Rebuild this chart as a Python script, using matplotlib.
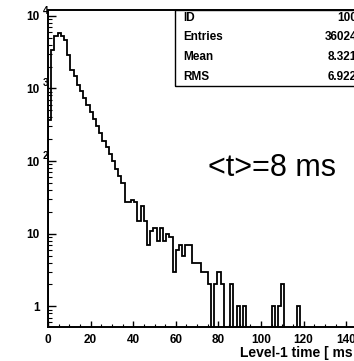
import numpy as np
import matplotlib.pyplot as plt
from matplotlib.patches import Rectangle

plt.rcParams['font.family'] = 'Liberation Sans'

# 100 bins of 1.5 ms between 0 and 150 ms
bin_edges = np.linspace(0, 150, 101)
counts = [365, 3400, 5270, 5720, 5270, 4700, 2900, 1800, 1460, 1120,
          910, 740, 590, 480, 380, 300, 245, 190, 155, 125,
          100, 78, 62, 50, 27, 27, 29, 27, 15, 24,
          15, 7, 11, 12, 8, 12, 8, 10, 9, 3,
          6, 7, 5, 7, 7, 4, 4, 4, 3, 3,
          2, 0, 2, 3, 2, 0, 0, 2, 0, 1,
          0, 1, 0, 0, 0, 0, 0, 0, 0, 0,
          1, 0, 1, 2, 0, 0, 0, 0, 1, 0,
          0, 0, 0, 0, 0, 0, 0, 0, 0, 0,
          0, 0, 0, 0, 0, 0, 0, 0, 0, 0]

stat_names = ['ID', 'Entries', 'Mean', 'RMS']
stat_values = ['100', '36024', '8.321', '6.922']

xticks = [0, 20, 40, 60, 80, 100, 120, 140]
ydecades = [0, 1, 2, 3, 4]

W, H = 354, 361
fig = plt.figure(figsize=(W / 100, H / 100), dpi=100)
# axes runs past the right edge of the picture (cropped like the original)
ax = fig.add_axes([48 / W, 34 / H, 319.5 / W, 317 / H])

y = np.array(counts, dtype=float)
y[y <= 0] = 1e-3  # empty bins drop to the bottom of the log axis
ax.stairs(y, bin_edges, baseline=1e-3, color='black', lw=1.3)

ax.set_yscale('log')
ax.set_xlim(0, 150)
ax.set_ylim(0.52, 12000)

for s in ax.spines.values():
    s.set_linewidth(1.4)

ax.set_xticks(xticks)
ax.set_xticks(np.arange(0, 151, 5), minor=True)
ax.set_yticks([10.0 ** d for d in ydecades])
ax.set_yticklabels(['1', '10', '10', '10', '10'])
ax.yaxis.set_minor_formatter(plt.NullFormatter())
ax.tick_params(axis='x', which='major', direction='in', length=4, width=1,
               pad=5, labelsize=8.5)
ax.tick_params(axis='x', which='minor', direction='in', length=2.2, width=0.8)
ax.tick_params(axis='y', which='major', direction='in', length=5.5, width=1,
               pad=6, labelsize=8.5)
ax.tick_params(axis='y', which='minor', direction='in', length=3, width=0.8)
for lab in ax.get_xticklabels() + ax.get_yticklabels():
    lab.set_fontweight('bold')

# exponents of the decade labels, hanging next to the axis like ROOT does
for d in ydecades[2:]:
    ax.annotate(str(d), xy=(0, 10.0 ** d), xycoords=('axes fraction', 'data'),
                xytext=(-5, 5), textcoords='offset pixels', ha='left',
                va='center', fontsize=7, fontweight='bold')

# stat box
fig.add_artist(Rectangle((175 / W, 1 - 86 / H), 0.6, 76 / H,
                         transform=fig.transFigure, fill=False,
                         edgecolor='black', lw=1.0))
for i, (n, v) in enumerate(zip(stat_names, stat_values)):
    yy = 1 - (18 + 19.5 * i) / H
    fig.text(183 / W, yy, n, fontsize=8.5, fontweight='bold', va='center')
    fig.text(357 / W, yy, v, fontsize=8.5, fontweight='bold', va='center',
             ha='right')

fig.text(272 / W, 1 - 168 / H, '<t>=8 ms', fontsize=22, ha='center',
         va='center')
fig.text(240 / W, 1 - 353 / H, 'Level-1 time [ ms ]', fontsize=10,
         fontweight='bold', ha='left', va='center')

fig.savefig('out.png', dpi=100)
